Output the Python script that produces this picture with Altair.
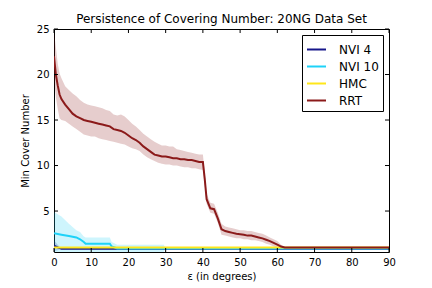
import altair as alt
import pandas as pd

series_names = ["NVI 4", "NVI 10", "HMC", "RRT"]
series_colors = ["#16168a", "#1ed2f8", "#ffe61a", "#8b1a1a"]

# RRT
rrt_x = [0, 0.5, 1, 1.5, 2, 3, 4, 5, 6, 7, 8, 9, 10, 11, 12, 13, 14, 15, 16, 17, 18, 19,
         20, 21, 22, 23, 24, 25, 26, 27, 28, 29, 30, 31, 32, 33, 34, 35, 36, 37, 38, 39,
         40, 40.5, 41, 42, 43, 44, 45, 46, 47, 48, 49, 50, 51, 52, 53, 54, 55, 56, 57,
         58, 59, 60, 61, 62, 90]
rrt_mean = [22.0, 20.0, 18.8, 17.8, 17.3, 16.7, 16.2, 15.7, 15.4, 15.2, 15.0, 14.9, 14.8,
            14.7, 14.6, 14.5, 14.4, 14.3, 14.0, 13.9, 13.8, 13.6, 13.3, 13.0, 12.8, 12.5,
            12.1, 11.8, 11.5, 11.2, 11.1, 11.0, 11.0, 10.9, 10.8, 10.8, 10.7, 10.7, 10.6,
            10.6, 10.5, 10.4, 10.4, 8.5, 6.3, 5.3, 5.2, 4.2, 3.0, 2.8, 2.7, 2.6, 2.5, 2.45,
            2.4, 2.3, 2.3, 2.2, 2.1, 2.0, 1.85, 1.7, 1.5, 1.3, 1.1, 1.0, 1.0]
rrt_lo = [19.5, 17.5, 16.2, 15.2, 15.0, 14.9, 14.6, 14.3, 14.0, 13.7, 13.4, 13.3, 13.2,
          13.2, 13.0, 12.9, 12.8, 12.7, 12.6, 12.5, 12.4, 12.3, 12.1, 11.9, 11.8, 11.6,
          11.2, 10.9, 10.7, 10.5, 10.3, 10.2, 10.1, 10.1, 10.0, 10.0, 9.9, 9.8, 9.8, 9.7,
          9.7, 9.6, 9.5, 7.8, 5.8, 4.8, 4.7, 3.7, 2.4, 2.3, 2.2, 2.1, 2.0, 2.0, 1.9, 1.9,
          1.8, 1.8, 1.7, 1.6, 1.4, 1.3, 1.1, 1.0, 0.95, 1.0, 1.0]
rrt_hi = [24.6, 23.0, 21.2, 20.1, 19.6, 18.7, 18.3, 17.9, 17.6, 17.2, 16.9, 16.7, 16.6,
          16.5, 16.4, 16.3, 16.1, 16.0, 15.6, 15.5, 15.6, 15.4, 15.0, 14.6, 14.3, 13.9,
          13.5, 13.2, 12.9, 12.6, 12.4, 12.2, 12.2, 12.1, 12.1, 11.8, 11.7, 11.6, 11.5,
          11.4, 11.3, 11.2, 11.2, 9.2, 6.9, 5.9, 5.8, 4.8, 3.6, 3.3, 3.2, 3.1, 3.0, 2.9,
          2.9, 2.8, 2.8, 2.7, 2.6, 2.5, 2.3, 2.1, 1.9, 1.7, 1.3, 1.0, 1.0]

# NVI 10
nvi10_x = [0, 2, 4, 6, 7, 8, 8.5, 15, 15.5, 17, 29.5, 30, 90]
nvi10_mean = [2.55, 2.4, 2.25, 2.1, 1.9, 1.6, 1.4, 1.4, 1.1, 0.88, 0.88, 0.88, 0.88]
nvi10_lo = [0.3, 0.3, 0.3, 0.3, 0.3, 0.4, 0.5, 0.5, 0.5, 0.5, 0.5, 0.88, 0.88]
nvi10_hi = [4.9, 4.4, 3.6, 2.9, 2.7, 2.2, 2.1, 2.1, 1.6, 1.3, 1.3, 0.88, 0.88]

# NVI 4
nvi4_x = [0, 1, 2, 90]
nvi4_mean = [1.2, 1.0, 0.85, 0.85]
nvi4_lo = [0.6, 0.7, 0.85, 0.85]
nvi4_hi = [1.8, 1.3, 0.85, 0.85]

# HMC
hmc_x = [0, 90]
hmc_mean = [1.0, 1.0]
hmc_lo = [1.0, 1.0]
hmc_hi = [1.0, 1.0]

x_ticks = [0, 10, 20, 30, 40, 50, 60, 70, 80, 90]
y_ticks = [5, 10, 15, 20, 25]

frames = []
for name, xs, m, lo, hi in [
    ("NVI 4", nvi4_x, nvi4_mean, nvi4_lo, nvi4_hi),
    ("NVI 10", nvi10_x, nvi10_mean, nvi10_lo, nvi10_hi),
    ("HMC", hmc_x, hmc_mean, hmc_lo, hmc_hi),
    ("RRT", rrt_x, rrt_mean, rrt_lo, rrt_hi),
]:
    frames.append(pd.DataFrame({"series": name, "x": xs, "mean": m, "lo": lo, "hi": hi}))
df = pd.concat(frames, ignore_index=True)

W, H = 335, 223
xscale = alt.Scale(domain=[0, 90], nice=False, zero=False)
yscale = alt.Scale(domain=[0.5, 25], nice=False, zero=False)
cscale = alt.Scale(domain=series_names, range=series_colors)

xaxis = alt.Axis(values=x_ticks, tickSize=0, labelPadding=5, domain=False, grid=False,
                 title="ε (in degrees)", titlePadding=4, labelFontSize=10, titleFontSize=10,
                 titleFontWeight="normal", labelColor="black", titleColor="black",
                 labelFont="DejaVu Sans", titleFont="DejaVu Sans", labelFlush=False)
yaxis = alt.Axis(values=y_ticks, tickSize=0, labelPadding=5, domain=False, grid=False,
                 title="Min Cover Number", titlePadding=6, labelFontSize=10, titleFontSize=10,
                 titleFontWeight="normal", labelColor="black", titleColor="black",
                 labelFont="DejaVu Sans", titleFont="DejaVu Sans", labelFlush=False)

layers = []
for i, s in enumerate(series_names):
    base = alt.Chart(df).transform_filter(alt.datum.series == s)
    area = base.mark_area(opacity=0.22, clip=True, color=series_colors[i]).encode(
        x=alt.X("x:Q", scale=xscale, axis=xaxis),
        y=alt.Y("lo:Q", scale=yscale, axis=yaxis),
        y2="hi:Q",
    )
    layers.append(area)

lines = alt.Chart(df).mark_line(strokeWidth=2, clip=True).encode(
    x=alt.X("x:Q", scale=xscale, axis=xaxis),
    y=alt.Y("mean:Q", scale=yscale, axis=yaxis),
    color=alt.Color("series:N", scale=cscale, sort=series_names,
                    legend=alt.Legend(title=None, orient="top-right")),
    order=alt.Order("x:Q"),
)
layers.append(lines)

xt = pd.DataFrame({"t": x_ticks})
yt = pd.DataFrame({"t": y_ticks})
tick_b = alt.Chart(xt).mark_rule(color="black", strokeWidth=1).encode(
    x=alt.X("t:Q", scale=xscale, axis=xaxis), y=alt.value(H), y2=alt.value(H - 4))
tick_t = alt.Chart(xt).mark_rule(color="black", strokeWidth=1).encode(
    x=alt.X("t:Q", scale=xscale, axis=xaxis), y=alt.value(0), y2=alt.value(4))
tick_l = alt.Chart(yt).mark_rule(color="black", strokeWidth=1).encode(
    y=alt.Y("t:Q", scale=yscale, axis=yaxis), x=alt.value(0), x2=alt.value(4))
tick_r = alt.Chart(yt).mark_rule(color="black", strokeWidth=1).encode(
    y=alt.Y("t:Q", scale=yscale, axis=yaxis), x=alt.value(W), x2=alt.value(W - 4))

chart = alt.layer(*layers, tick_b, tick_t, tick_l, tick_r).properties(
    width=W, height=H,
    title=alt.Title("Persistence of Covering Number: 20NG Data Set", fontSize=12,
                    fontWeight="normal", font="DejaVu Sans", color="black", offset=5,
                    frame="group", dy=7),
    autosize=alt.AutoSizeParams(type="none"),
    padding={"left": 46, "top": 21, "right": 30, "bottom": 36},
).configure_view(
    stroke="black", strokeWidth=1
).configure_legend(
    offset=6, strokeColor="black", fillColor="white",
    padding=4, cornerRadius=0, labelFontSize=12, labelFont="DejaVu Sans",
    labelColor="black", symbolType="stroke", symbolSize=361, symbolStrokeWidth=2,
    labelOffset=12, rowPadding=0
)

chart.save("out.html", embed_options={"renderer": "svg", "actions": False})
